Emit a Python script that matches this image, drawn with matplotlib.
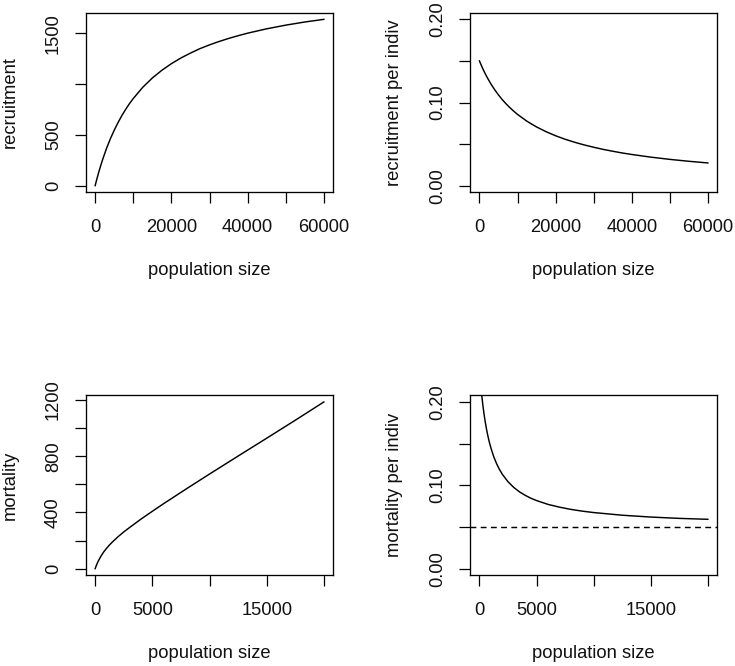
import matplotlib
matplotlib.use("Agg")
import matplotlib.pyplot as plt

plt.rcParams['font.family'] = ['Liberation Sans', 'DejaVu Sans']

# ---- data ----
rec_N = [0, 500, 1000, 1500, 2000, 3000, 4000, 5000, 6000, 7000, 8000, 9000,
         10000, 12500, 15000, 17500, 20000, 22500, 25000, 27500, 30000, 32500,
         35000, 37500, 40000, 45000, 50000, 55000, 60000]
recruitment = [0, 72, 140, 202, 261, 368, 462, 545, 620, 689, 750, 807,
               857, 968, 1059, 1135, 1200, 1256, 1304, 1348, 1385, 1418,
               1448, 1475, 1500, 1543, 1579, 1610, 1636]
recruitment_per_indiv = [0.150, 0.1446, 0.1395, 0.1348, 0.1304, 0.1224, 0.1154,
                         0.1091, 0.1034, 0.0984, 0.0938, 0.0896, 0.0857, 0.0774,
                         0.0706, 0.0649, 0.0600, 0.0558, 0.0522, 0.0490, 0.0462,
                         0.0436, 0.0414, 0.0393, 0.0375, 0.0343, 0.0316, 0.0293,
                         0.0273]

mort_N = [0, 100, 250, 500, 750, 1000, 1250, 1500, 2000, 2500, 3000, 4000, 5000,
          6000, 8000, 10000, 12500, 15000, 17500, 20000]
mortality = [0, 22, 50, 88, 119, 145, 168, 189, 227, 261, 292, 352, 408,
             463, 569, 673, 801, 928, 1056, 1186]
mort_pi_N = [100, 200, 300, 400, 500, 625, 750, 875, 1000, 1250, 1500, 1750,
             2000, 2500, 3000, 3500, 4000, 4500, 5000, 6000, 7000, 8000, 9000,
             10000, 12500, 15000, 17500, 20000]
mortality_per_indiv = [0.2227, 0.2083, 0.1962, 0.1857, 0.1767, 0.1669, 0.1586,
                       0.1513, 0.1450, 0.1344, 0.1260, 0.1191, 0.1133, 0.1043,
                       0.0975, 0.0922, 0.0880, 0.0845, 0.0817, 0.0771, 0.0738,
                       0.0711, 0.0690, 0.0673, 0.0641, 0.0619, 0.0603, 0.0592]
baseline_mortality = 0.05

top_xticks = [0, 10000, 20000, 30000, 40000, 50000, 60000]
top_xlabels = ['0', '', '20000', '', '40000', '', '60000']
bot_xticks = [0, 5000, 10000, 15000, 20000]
bot_xlabels = ['0', '5000', '', '15000', '']
rec_yticks = [0, 500, 1000, 1500]
rec_ylabels = ['0', '500', '', '1500']
mort_yticks = [0, 200, 400, 600, 800, 1000, 1200]
mort_ylabels = ['0', '', '400', '', '800', '', '1200']
pi_yticks = [0, 0.05, 0.10, 0.15, 0.20]
pi_ylabels = ['0.00', '', '0.10', '', '0.20']

W, H = 735, 666
fig = plt.figure(figsize=(W / 100, H / 100), dpi=100)

FS = 13.2
LW = 1.05
TXT = '#111111'


def make_ax(left_px, right_px, top_px, bottom_px):
    return fig.add_axes([left_px / W, 1 - bottom_px / H,
                         (right_px - left_px) / W, (bottom_px - top_px) / H])


def rlim(lo, hi):
    d = hi - lo
    return lo - 0.04 * d, hi + 0.04 * d


def style(ax, xticks, xlabels, yticks, ylabels, xlabel, ylabel, xlim, ylim):
    ax.set_xlim(*rlim(*xlim))
    ax.set_ylim(*rlim(*ylim))
    ax.set_xticks(xticks)
    ax.set_xticklabels(xlabels, fontsize=FS, color=TXT)
    ax.set_yticks(yticks)
    ax.set_yticklabels(ylabels, fontsize=FS, rotation=90, va='center', color=TXT)
    ax.tick_params(axis='both', length=7.9, width=0.9, direction='out')
    ax.tick_params(axis='x', pad=11.5)
    ax.tick_params(axis='y', pad=9.3)
    for s in ax.spines.values():
        s.set_linewidth(0.95)
    ax.set_xlabel(xlabel, fontsize=FS, color=TXT)
    ax.set_ylabel(ylabel, fontsize=FS, color=TXT)
    ax.xaxis.set_label_coords(0.5, -0.435)
    ax.xaxis.label.set_verticalalignment('center')
    ax.yaxis.set_label_coords(-0.306, 0.5)
    ax.yaxis.label.set_verticalalignment('center')


# top-left
ax1 = make_ax(86, 333, 12.7, 192.3)
ax1.plot(rec_N, recruitment, color='black', lw=LW)
style(ax1, top_xticks, top_xlabels, rec_yticks, rec_ylabels,
      'population size', 'recruitment', (0, 60000), (0, max(recruitment)))

# top-right
ax2 = make_ax(470.3, 717, 12.7, 192.3)
ax2.plot(rec_N, recruitment_per_indiv, color='black', lw=LW)
style(ax2, top_xticks, top_xlabels, pi_yticks, pi_ylabels,
      'population size', 'recruitment per indiv', (0, 60000), (0, 0.2))

# bottom-left
ax3 = make_ax(86, 333, 395.3, 575.3)
ax3.plot(mort_N, mortality, color='black', lw=LW)
style(ax3, bot_xticks, bot_xlabels, mort_yticks, mort_ylabels,
      'population size', 'mortality', (0, 20000), (0, max(mortality)))

# bottom-right
ax4 = make_ax(470.3, 717, 395.3, 575.3)
ax4.plot(mort_pi_N, mortality_per_indiv, color='black', lw=LW)
ax4.axhline(baseline_mortality, color='black', lw=LW, linestyle=(0, (4, 3)))
style(ax4, bot_xticks, bot_xlabels, pi_yticks, pi_ylabels,
      'population size', 'mortality per indiv', (0, 20000), (0, 0.2))

fig.savefig('out.png', dpi=100)
